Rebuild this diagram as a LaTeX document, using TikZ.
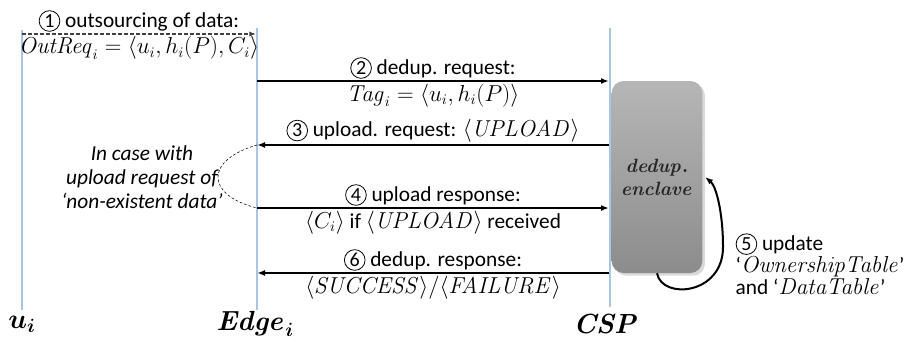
\documentclass[tikz,border=0pt]{standalone}
\usepackage{amsmath,amssymb}
\usepackage[no-math]{fontspec}
\setmainfont{Carlito}
\usepackage{xcolor}
\usepackage{tikz}
\usetikzlibrary{arrows.meta,shadows,positioning}

\definecolor{lifeblue}{HTML}{A9C4E4}
\definecolor{encltop}{HTML}{B6B6B6}
\definecolor{enclbot}{HTML}{8C8C8C}

% circled step number
\newcommand{\stepno}[1]{\tikz[baseline=(sn.base)]\node[circle, draw=black, line width=0.6pt,
    inner sep=0pt, minimum size=15.5pt, font=\fontsize{15}{15}\selectfont] (sn) {#1};}

\begin{document}
\begin{tikzpicture}[x=0.75pt, y=-0.75pt,
    font=\fontsize{16}{19}\selectfont,
    life/.style={lifeblue, line width=0.8pt},
    msg/.style={line width=1.5pt, -{Latex[length=6pt,width=4.5pt]}},
    dmsg/.style={black!75, line width=1pt, dash pattern=on 3pt off 1.5pt, -{Latex[length=5pt,width=4pt]}},
    lbl/.style={inner sep=1.5pt, text=black},
    actor/.style={font=\fontsize{22}{26}\selectfont\boldmath},
    enclave/.style={rounded corners=9pt, minimum width=68pt, minimum height=144pt,
        top color=encltop, bottom color=enclbot,
        drop shadow={opacity=0.3, shadow xshift=2pt, shadow yshift=-2pt},
        align=center, text=black!85, font=\fontsize{15}{17}\selectfont\boldmath}]
    \useasboundingbox (0,0) rectangle (910,343);

    % Lifelines
    \coordinate (uTop) at (22,30);   \coordinate (uBot) at (22,310);
    \coordinate (eTop) at (257,28);  \coordinate (eBot) at (257,310);
    \coordinate (cTop) at (610,28);  \coordinate (cBot) at (610,307);
    \draw[life] (uTop) -- (uBot);
    \draw[life] (eTop) -- (eBot);
    \draw[life] (cTop) -- (cBot);

    % Actors
    \node[actor] (ui) at (22,324) {$u_i$};
    \node[actor] (edge) at (255,324) {$\mathit{Edge}_i$};
    \node[actor] (csp) at (606,324) {$\mathit{CSP}$};

    % Enclave at the CSP
    \node[enclave] (encl) at (657,177) {$\mathit{dedup.}$\\$\mathit{enclave}$};

    % Message end points
    \coordinate (u1) at (22,34);   \coordinate (e1) at (256,34);
    \coordinate (e2) at (257,81);  \coordinate (c2) at (609,81);
    \coordinate (e3) at (257,145); \coordinate (c3) at (609,145);
    \coordinate (e4) at (257,208); \coordinate (c4) at (609,208);
    \coordinate (e6) at (257,273); \coordinate (c6) at (609,273);

    % (1) outsourcing
    \draw[dmsg] (u1) -- node[lbl, above] (l1a) {\stepno{1} outsourcing of data:}
        node[lbl, below] (l1b) {$\mathit{OutReq}_i = \langle u_i, h_i(P), C_i\rangle$} (e1);

    % (2) dedup. request
    \draw[msg] (e2) -- node[lbl, above] (l2a) {\stepno{2} dedup. request:}
        node[lbl, below] (l2b) {$\mathit{Tag}_i = \langle u_i, h_i(P)\rangle$} (c2);

    % (3) upload request
    \draw[msg] (c3) -- node[lbl, above] (l3a) {\stepno{3} upload. request: $\langle \mathit{UPLOAD}\rangle$} (e3);

    % (4) upload response
    \draw[msg] (e4) -- node[lbl, above] (l4a) {\stepno{4} upload response:}
        node[lbl, below] (l4b) {$\langle C_i\rangle$ if $\langle \mathit{UPLOAD}\rangle$ received} (c4);

    % (6) dedup. response
    \draw[msg] (c6) -- node[lbl, above] (l6a) {\stepno{6} dedup. response:}
        node[lbl, below] (l6b) {$\langle \mathit{SUCCESS}\rangle/\langle \mathit{FAILURE}\rangle$} (e6);

    % Note on the non-existent data case
    \draw[thin, dash pattern=on 2pt off 1.5pt] (e3) .. controls (205,160) and (205,195) .. (e4);
    \node[align=center, font=\fontsize{16}{18}\selectfont\itshape] (note) at (142,177)
        {In case with\\upload request of\\‘non-existent data’};

    % (5) update inside the enclave
    \coordinate (p5) at (723,247);
    \coordinate (t5) at (705,177);
    \draw[msg] (encl.south) .. controls (662,300) and (723,295) .. (p5)
        .. controls (723,212) and (716,186) .. (t5);
    \node[anchor=west, align=left, font=\fontsize{16}{16.5}\selectfont] (l5) at (731,264)
        {\stepno{5} update\\‘$\mathit{OwnershipTable}$’\\and ‘$\mathit{DataTable}$’};
\end{tikzpicture}
\end{document}
